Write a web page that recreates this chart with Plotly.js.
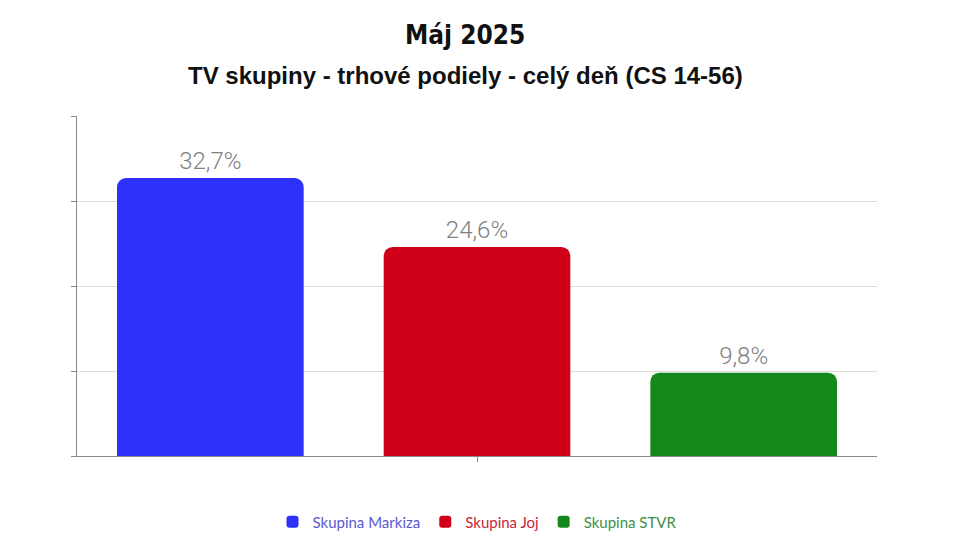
<!DOCTYPE html>
<html>
<head>
<meta charset="utf-8">
<script src="https://cdn.plot.ly/plotly-3.0.1.min.js"></script>
<style>
  html, body { margin: 0; padding: 0; background: #fff; }
  #chart { width: 959px; height: 539px; }
</style>
</head>
<body>
<div id="chart"></div>
<script>
// trhove podiely TV skupin, maj 2025
const groups = ["Skupina Markiza", "Skupina Joj", "Skupina STVR"]
const shares = [32.7, 24.6, 9.8]
const barColors = ["#2c32fb", "#d0001b", "#12891a"]
const legendColors = ["#5a5ad0", "#c8253a", "#3f8f45"]
const period = [""]

const traces = groups.map((g, i) => ({
    type: "bar",
    name: "<span style='color:" + legendColors[i] + "'>" + g + "</span>",
    x: period,
    y: [shares[i]],
    marker: { color: barColors[i], cornerradius: 9 },
    texttemplate: "%{y:.1f}%",
    textposition: "outside",
    cliponaxis: false,
    textfont: { family: "Roboto, sans-serif", size: 24, color: "#808080", weight: 300 },
    hoverinfo: "name+y",
}))

// plot area is 340px high (539 - 116 - 83), titles are placed above it in paper units
const plotH = 340

Plotly.newPlot(
    document.getElementById("chart"),
    traces,
    {
        width: 959,
        height: 539,
        margin: { l: 77, r: 82, t: 116, b: 83, autoexpand: false },
        paper_bgcolor: "#ffffff",
        plot_bgcolor: "#ffffff",
        separators: ", ",
        barmode: "group",
        bargap: 0,
        bargroupgap: 0.3,
        showlegend: true,
        legend: {
            orientation: "h",
            x: 0.5,
            xanchor: "center",
            xref: "paper",
            y: 17 / 539,
            yref: "container",
            yanchor: "middle",
            font: { family: "Lato, sans-serif", size: 15 },
            itemwidth: 30,
        },
        xaxis: {
            type: "category",
            showticklabels: false,
            ticks: "outside",
            ticklen: 5,
            tickcolor: "#888",
            showline: true,
            linecolor: "#888",
            showgrid: false,
        },
        yaxis: {
            range: [0, 40],
            dtick: 10,
            showticklabels: false,
            ticks: "outside",
            ticklen: 5,
            tickcolor: "#888",
            showline: true,
            linecolor: "#888",
            gridcolor: "#dcdcdc",
            zeroline: false,
        },
        annotations: [{
            text: "<b>Máj 2025</b>",
            font: { family: "'DejaVu Sans Condensed', 'DejaVu Sans', sans-serif", size: 26, color: "#111" },
            showarrow: false,
            x: 0.485,
            y: 1 + (116 - 35) / plotH,
            xref: "paper",
            yref: "paper",
            xanchor: "center",
            yanchor: "middle",
        }, {
            text: "<b>TV skupiny - trhové podiely - celý deň (CS 14-56)</b>",
            font: { family: "'Liberation Sans', Arial, sans-serif", size: 24, color: "#111" },
            showarrow: false,
            x: 0.485,
            y: 1 + (116 - 75) / plotH,
            xref: "paper",
            yref: "paper",
            xanchor: "center",
            yanchor: "middle",
        }],
    },
    { displayModeBar: false }
)
</script>
</body>
</html>
